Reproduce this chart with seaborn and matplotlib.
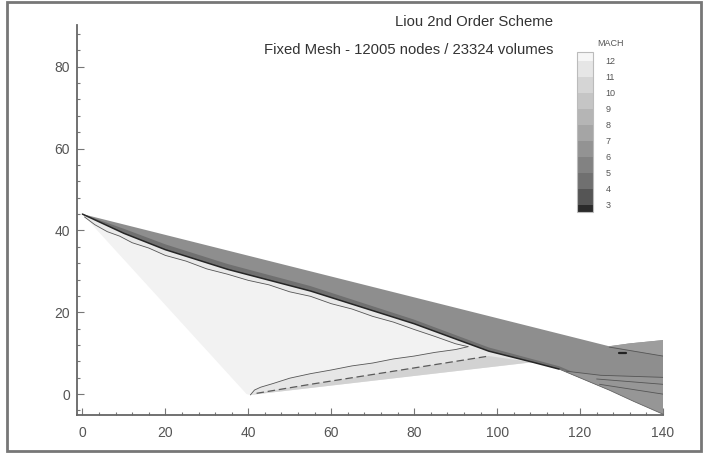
import numpy as np
import seaborn as sns
import matplotlib.pyplot as plt
from matplotlib import colors as mcolors
from matplotlib import cm
from matplotlib.patches import Rectangle
from matplotlib.ticker import MultipleLocator

sns.set_theme(style="ticks")
plt.rcParams['font.family'] = ['Liberation Sans', 'DejaVu Sans']

# outer edge of the shock layer (upper boundary of the gray band)
edge_x = [0, 127, 132, 140]
edge_y = [44, 11.7, 12.4, 13.2]
# dark line at the lower edge of the shock layer
dark_x = [0, 10, 20, 35, 55, 80, 98, 108.6, 115, 127, 133, 140]
dark_y = [44, 39.3, 35.3, 30.5, 25.2, 17.2, 10.5, 7.8, 6.1, 1.0, -1.8, -4.9]
# darker strip just above the dark line
strip_x = [0, 10, 20, 35, 55, 80, 98, 115, 127]
strip_y = [44, 40.4, 36.6, 31.8, 26.4, 18.2, 11.4, 6.8, 1.6]
# wavy contour under the shock layer
wavy1_x = [0.5, 3, 6, 9, 12, 16, 20, 25, 30, 35, 40, 45, 50, 55, 60, 65, 70, 75, 80, 85, 90, 93]
wavy1_y = [43.3, 41.4, 39.7, 38.6, 37.0, 35.7, 33.9, 32.5, 30.6, 29.3, 27.8, 26.7, 25.0, 23.9,
           22.1, 20.8, 19.0, 17.6, 15.8, 14.1, 12.3, 11.6]
# wavy contour rising from the apex at x=40
wavy2_x = [40.5, 41.5, 43, 46, 50, 55, 60, 65, 70, 75, 80, 85, 90, 93]
wavy2_y = [-0.2, 1.0, 1.7, 2.6, 3.9, 5.0, 5.9, 6.9, 7.6, 8.6, 9.3, 10.2, 10.9, 11.6]
# broken contour inside the lower wedge
dash_x = [42, 55, 75, 98]
dash_y = [0.2, 2.4, 5.6, 9.3]
# lower edge of the light wedge
low_x = [40.5, 108.6]
low_y = [-0.2, 7.8]
apex = (39.6, 0)
# contour lines in the fan at the right
fan_lines = {
    'f1': ([127, 140], [11.5, 9.3]),
    'f2': ([116.7, 125, 140], [5.6, 4.6, 4.1]),
    'f3': ([124, 140], [3.7, 2.4]),
    'f4': ([124.7, 140], [2.4, 0.0]),
}
mark_x = [129.5, 131]
mark_y = [10, 10]

# legend levels and band colours
mach_levels = [3, 4, 5, 6, 7, 8, 9, 10, 11, 12]
mach_bounds = [2.55, 3, 4, 5, 6, 7, 8, 9, 10, 11, 12, 12.56]
band_colors = ['#2b2b2b', '#555555', '#707070', '#828282', '#939393', '#a5a5a5',
               '#b5b5b5', '#c5c5c5', '#d5d5d5', '#e6e6e6', '#f6f6f6']

fig = plt.figure(figsize=(7.05, 4.55), dpi=100)
ax = fig.add_axes([77 / 705, 40 / 455, (663 - 77) / 705, (430 - 40) / 455])

# light region between the apex and the shock
tri_x = [apex[0]] + dark_x[:7] + wavy2_x[::-1]
tri_y = [apex[1]] + dark_y[:7] + wavy2_y[::-1]
ax.fill(tri_x, tri_y, color='#f2f2f2', lw=0)
# slightly grayer strip between the wavy contour and the shock
ax.fill(wavy1_x + dark_x[:7][::-1], wavy1_y + dark_y[:7][::-1], color='#e9e9e9', lw=0)

# light gray wedge
wedge_x = wavy2_x + [98, 108.6] + low_x[::-1]
wedge_y = wavy2_y + [10.5, 7.8] + low_y[::-1]
ax.fill(wedge_x, wedge_y, color='#e6e6e6', lw=0)
lw_x = dash_x + [108.6] + low_x[::-1]
lw_y = dash_y + [7.8] + low_y[::-1]
ax.fill(lw_x, lw_y, color='#d2d2d2', lw=0)

# shock layer band
band_x = edge_x + dark_x[::-1]
band_y = edge_y + dark_y[::-1]
ax.fill(band_x, band_y, color='#8e8e8e', lw=0)
sx = strip_x + dark_x[:10][::-1]
sy = strip_y + dark_y[:10][::-1]
ax.fill(sx, sy, color='#707070', lw=0)

# lighter parts of the fan
ax.fill([127, 132, 140, 140], [11.7, 12.4, 13.2, 9.3], color='#9d9d9d', lw=0)
ax.fill(fan_lines['f2'][0] + [140, 133, 127, 115],
        fan_lines['f2'][1] + [-4.9, -1.8, 1.0, 6.1], color='#969696', lw=0)

# contour lines
sns.lineplot(x=dark_x[:9], y=dark_y[:9], sort=False, estimator=None, color='#262626', lw=1.1, ax=ax)
sns.lineplot(x=dark_x[8:], y=dark_y[8:], sort=False, estimator=None, color='#6a6a6a', lw=0.6, ax=ax)
sns.lineplot(x=wavy1_x, y=wavy1_y, sort=False, estimator=None, color='#555555', lw=0.6, ax=ax)
sns.lineplot(x=wavy2_x, y=wavy2_y, sort=False, estimator=None, color='#555555', lw=0.6, ax=ax)
sns.lineplot(x=dash_x, y=dash_y, sort=False, estimator=None, color='#5a5a5a', lw=0.9,
             ax=ax).lines[-1].set_dashes([6, 3])
for key, (fx, fy) in fan_lines.items():
    sns.lineplot(x=fx, y=fy, sort=False, estimator=None, color='#555555', lw=0.6, ax=ax)
sns.lineplot(x=mark_x, y=mark_y, sort=False, estimator=None, color='#222222', lw=1.6, ax=ax)

ax.set_xlim(-1.3, 140)
ax.set_ylim(-5.1, 90.2)
ax.set_xticks(range(0, 141, 20))
ax.set_yticks(range(0, 81, 20))
ax.xaxis.set_minor_locator(MultipleLocator(4))
ax.yaxis.set_minor_locator(MultipleLocator(4))
ax.tick_params(which='both', direction='in', color='#777777', width=0.8)
ax.tick_params(which='major', length=5, labelsize=10, labelcolor='#555555')
ax.tick_params(which='minor', length=2.5)
ax.tick_params(axis='x', pad=8)
ax.tick_params(axis='y', pad=5)
ax.set_facecolor('white')
sns.despine(ax=ax)
for s in ['left', 'bottom']:
    ax.spines[s].set_color('#666666')
    ax.spines[s].set_linewidth(1.3)

fig.text(553 / 705, 1 - 22 / 455, 'Liou 2nd Order Scheme', ha='right', va='center',
         fontsize=10.7, color='#333333')
fig.text(553 / 705, 1 - 50 / 455, 'Fixed Mesh - 12005 nodes / 23324 volumes', ha='right',
         va='center', fontsize=10.7, color='#333333')

# colour legend
cax = fig.add_axes([577 / 705, (455 - 212) / 455, 16 / 705, 160 / 455])
cmap = mcolors.ListedColormap(band_colors)
norm = mcolors.BoundaryNorm(mach_bounds, cmap.N)
cb = fig.colorbar(cm.ScalarMappable(norm=norm, cmap=cmap), cax=cax, ticks=mach_levels,
                  spacing='proportional')
cb.minorticks_off()
cb.outline.set_edgecolor('#bbbbbb')
cb.outline.set_linewidth(0.8)
cax.tick_params(which='both', length=0, labelsize=6.5, labelcolor='#555555', pad=9)
fig.text(611 / 705, 1 - 43 / 455, 'MACH', ha='center', va='center', fontsize=6.5,
         color='#555555')

fig.add_artist(Rectangle((0.01, 0.008), 0.985, 0.988, transform=fig.transFigure,
                         fill=False, ec='#777777', lw=2))

fig.savefig('out.png', dpi=100)
